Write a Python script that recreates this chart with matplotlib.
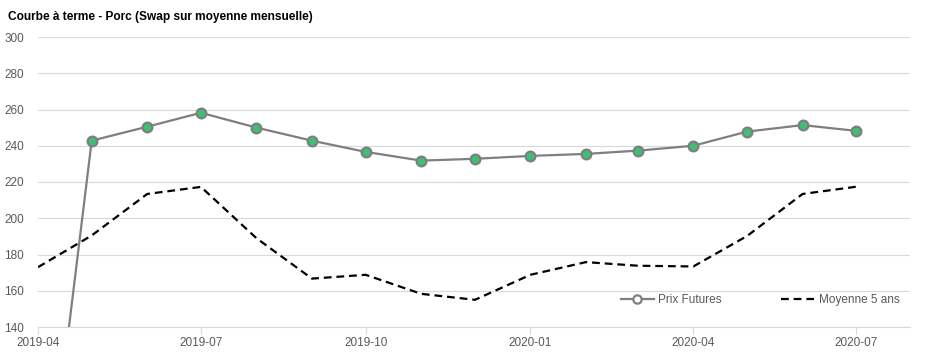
import matplotlib
matplotlib.use("Agg")
import matplotlib.pyplot as plt
import pandas as pd

plt.rcParams['font.family'] = ['Liberation Sans', 'DejaVu Sans']

months = ["2019-04", "2019-05", "2019-06", "2019-07", "2019-08", "2019-09", "2019-10",
          "2019-11", "2019-12", "2020-01", "2020-02", "2020-03", "2020-04", "2020-05",
          "2020-06", "2020-07"]
prix_futures = [0, 242.8, 250.5, 258.2, 250.0, 242.8, 236.6, 231.8, 232.8, 234.4,
                235.5, 237.3, 240.0, 247.8, 251.4, 248.2]
moyenne_5ans = [173.0, 190.5, 213.4, 217.3, 189.0, 166.7, 168.8, 158.3, 155.0, 168.8,
                175.8, 173.8, 173.4, 190.2, 213.4, 217.4]
tick_labels = ["2019-04", "2019-07", "2019-10", "2020-01", "2020-04", "2020-07"]
title = "Courbe à terme - Porc (Swap sur moyenne mensuelle)"

dates = pd.to_datetime(months)

fig = plt.figure(figsize=(9.33, 3.57), dpi=100)
ax = fig.add_axes([38/933, 30/357, (910-38)/933, (327-37)/357])

ax.plot(dates, prix_futures, color="#7f7f7f", lw=1.6, marker="o", markersize=7,
        markerfacecolor="#3dbf74", markeredgecolor="#7f7f7f", markeredgewidth=1.6,
        label="Prix Futures", zorder=3)
ax.plot(dates, moyenne_5ans, color="black", lw=1.6, ls=(0, (3.5, 2.2)),
        label="Moyenne 5 ans", zorder=2)

ax.set_ylim(140, 300)
ax.set_yticks(range(140, 301, 20))
ax.set_xlim(pd.Timestamp("2019-04-01"), pd.Timestamp("2020-07-31"))
ax.set_xticks(pd.to_datetime(tick_labels))
ax.set_xticklabels(tick_labels)

ax.grid(axis="y", color="#d9d9d9", lw=0.8)
ax.set_axisbelow(True)
for s in ["top", "right", "left"]:
    ax.spines[s].set_visible(False)
ax.spines["bottom"].set_color("#d9d9d9")
ax.tick_params(axis="y", length=0, labelsize=8.5, labelcolor="#595959", pad=10)
ax.tick_params(axis="x", length=5, color="#d9d9d9", labelsize=8.5, labelcolor="#595959", pad=2)

leg = ax.legend(loc="lower right", ncol=2, frameon=False, fontsize=8.5,
                bbox_to_anchor=(1.0, 0.035), columnspacing=5.0, handlelength=2.8,
                handletextpad=0.4, labelcolor="#595959")
leg.legend_handles[0].set_markerfacecolor("white")
leg.legend_handles[0].set_markersize(6)

fig.text(8/933, 1 - 17/357, title, fontsize=8.6, fontweight="bold", va="center", ha="left")

fig.savefig("out.png", dpi=100)
